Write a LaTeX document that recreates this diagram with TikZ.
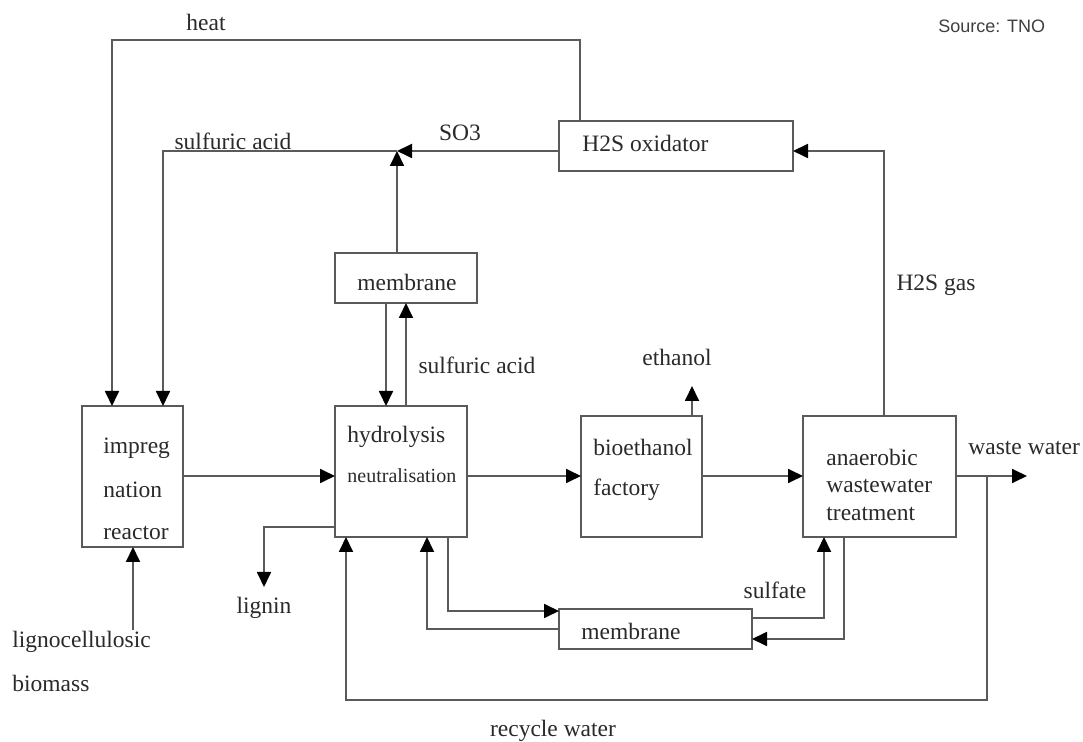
\documentclass[tikz,border=0pt]{standalone}
\usepackage{fontspec}
\setmainfont{Liberation Serif}
\newfontfamily\srcfont{Liberation Sans}
\usetikzlibrary{arrows.meta}
\definecolor{lncol}{HTML}{5A5A5A}
\definecolor{txcol}{HTML}{2A2A2A}
\tikzset{
  box/.style={draw=lncol, line width=0.9pt, inner sep=0pt, outer sep=0pt, fill=white},
  flow/.style={draw=lncol, line width=0.9pt},
  arr/.style={flow, -{Triangle[length=7.5pt,width=7pt,color=black]}},
  lbl/.style={text=txcol, inner sep=0pt, font=\fontsize{11.75}{14}\selectfont},
  lblw/.style={lbl, anchor=west},
  small/.style={text=txcol, inner sep=0pt, anchor=west, font=\fontsize{10}{12}\selectfont},
}
\begin{document}
\begin{tikzpicture}[x=0.5pt, y=-0.5pt]
\useasboundingbox[fill=white] (0,0) rectangle (1083,742);

% boxes
\node[box, minimum width=50.5pt, minimum height=70.5pt] (imp) at (132.5,476.5) {};
\node[box, minimum width=66pt, minimum height=65.5pt] (hyd) at (401,471.5) {};
\node[box, minimum width=71pt, minimum height=25pt] (memtop) at (406,278) {};
\node[box, minimum width=60.5pt, minimum height=60.5pt] (bio) at (641.5,476.5) {};
\node[box, minimum width=76.5pt, minimum height=60.5pt] (ana) at (879.5,476.5) {};
\node[box, minimum width=117pt, minimum height=25pt] (h2s) at (676,146) {};
\node[box, minimum width=96.5pt, minimum height=20pt] (membot) at (655.5,629) {};

% helper coordinates
\coordinate (heatTR) at (580,40);
\coordinate (heatTL) at (112,40);
\coordinate (J) at (397,151);
\coordinate (SA) at (163,151);
\coordinate (mdx) at (386,300);
\coordinate (WW) at (1027,476);
\coordinate (RJ) at (987,476);
\coordinate (RB) at (987,700);
\coordinate (RL) at (346,700);
\coordinate (eth) at (692,386);
\coordinate (gasTop) at (884,151);
\coordinate (lig1) at (264,527);
\coordinate (lig2) at (264,587);
\coordinate (bm) at (133,630);
\coordinate (hb1) at (448,611);
\coordinate (hb2) at (427,629);
\coordinate (sf) at (824,618);
\coordinate (rt) at (844,639);

% connectors
\draw[arr] (h2s.north -| heatTR) -- (heatTR) -- (heatTL) -- (heatTL |- imp.north);
\draw[arr] (h2s.west |- J) -- (J);
\draw[arr] (memtop.north -| J) -- (J);
\draw[arr] (J) -- (SA) -- (SA |- imp.north);
\draw[arr] (memtop.south -| mdx) -- (hyd.north -| mdx);
\draw[arr] (hyd.north -| memtop.south) -- (memtop.south);
\draw[arr] (imp.east |- WW) -- (hyd.west |- WW);
\draw[arr] (hyd.east |- WW) -- (bio.west |- WW);
\draw[arr] (bio.east |- WW) -- (ana.west |- WW);
\draw[arr] (ana.east |- WW) -- (WW);
\draw[arr] (bio.north -| eth) -- (eth);
\draw[arr] (ana.north -| gasTop) -- (gasTop) -- (h2s.east |- gasTop);
\draw[arr] (hyd.west |- lig1) -- (lig1) -- (lig2);
\draw[arr] (bm) -- (bm |- imp.south);
\draw[arr] (hyd.south -| hb1) -- (hb1) -- (membot.west |- hb1);
\draw[arr] (membot.west |- hb2) -- (hb2) -- (hb2 |- hyd.south);
\draw[arr] (membot.east |- sf) -- (sf) -- (sf |- ana.south);
\draw[arr] (ana.south -| rt) -- (rt) -- (membot.east |- rt);
\draw[arr] (RJ) -- (RB) -- (RL) -- (RL |- hyd.south);

% texts in boxes
\node[lblw] at (103,448) {impreg};
\node[lblw] at (103,490) {nation};
\node[lblw] at (103,533) {reactor};
\node[lblw] at (347,437) {hydrolysis};
\node[small] at (347,476) {neutralisation};
\node[lbl] at (407,282) {membrane};
\node[lblw] at (593,447) {bioethanol};
\node[lblw] at (593,490) {factory};
\node[lblw] at (826,457) {anaerobic};
\node[lblw] at (826,486) {wastewater};
\node[lblw] at (826,514) {treatment};
\node[lblw] at (582,143) {H2S oxidator};
\node[lblw] at (581,631) {membrane};

% flow labels
\node[lbl] at (206,22) {heat};
\node[lbl] at (460,133) {SO3};
\node[lbl] at (233,141) {sulfuric acid};
\node[lbl] at (477,365) {sulfuric acid};
\node[lbl] at (936,285) {H2S gas};
\node[lbl] at (677,357) {ethanol};
\node[lblw] at (968,448) {waste water};
\node[lbl] at (264,608) {lignin};
\node[lblw] at (12,642) {lignocellulosic};
\node[lblw] at (12,683) {biomass};
\node[lbl] at (775,590) {sulfate};
\node[lbl] at (553,731) {recycle water};
\node[anchor=west, inner sep=0pt, text=black!75, font=\srcfont\fontsize{9}{11}\selectfont] at (938,26) {Source: TNO};
\end{tikzpicture}
\end{document}
